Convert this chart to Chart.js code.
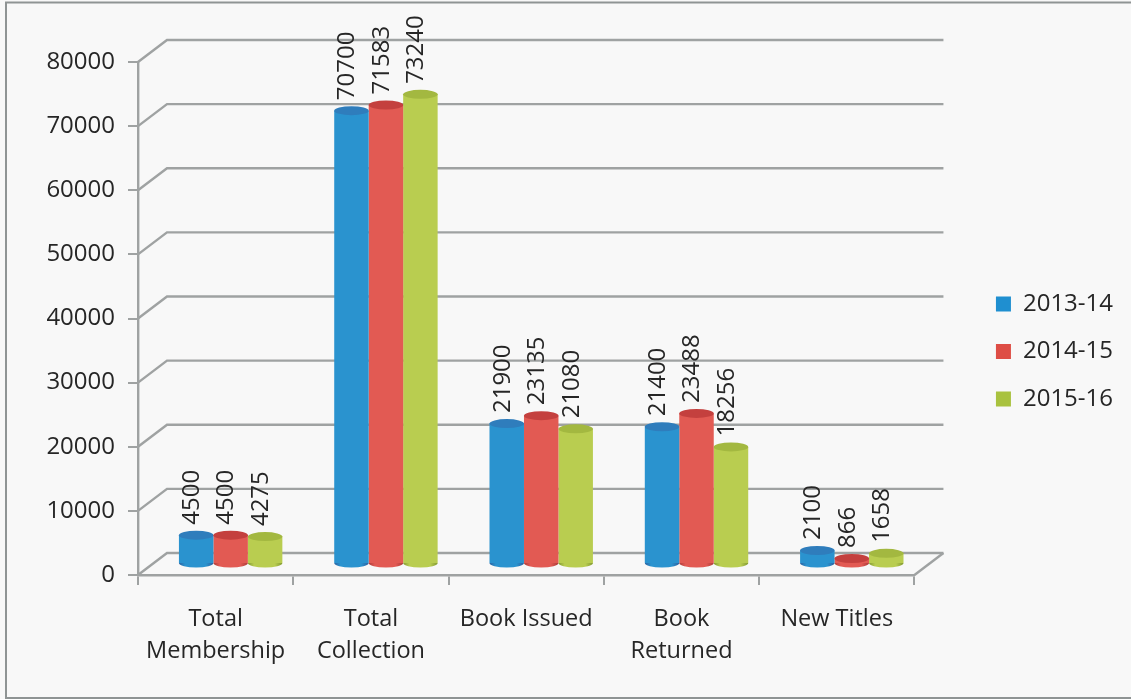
<!DOCTYPE html>
<html><head><meta charset="utf-8">
<style>html,body{margin:0;padding:0;background:#f8f8f8}#w{position:relative;width:1131px;height:699px;overflow:hidden}</style>
<script src="https://cdn.jsdelivr.net/npm/chart.js@4"></script>
</head><body><div id="w"><canvas id="c" width="1131" height="699"></canvas></div>
<script>
const categories = [["Total","Membership"],["Total","Collection"],"Book Issued",["Book","Returned"],"New Titles"];
const seriesNames = ["2013-14","2014-15","2015-16"];
const values2013 = [4500,70700,21900,21400,2100];
const values2014 = [4500,71583,23135,23488,866];
const values2015 = [4275,73240,21080,18256,1658];
const yTicks = [0,10000,20000,30000,40000,50000,60000,70000,80000];
const FONT = '"Open Sans"';
const TEXT = '#262626', LINE = '#9fa2a2';
const palette = [
 {edge:'#2c62a0',mid:'#2a93cf',top:'#2f7dbc',legend:'#1f8fd0'},
 {edge:'#ad3c3a',mid:'#e25a53',top:'#c4403e',legend:'#de4d45'},
 {edge:'#839a32',mid:'#b9cd50',top:'#a3b840',legend:'#a9c23f'}];
const DX=15, DY=-11, RY=4.5;     // bar plane depth
const WX=29, WY=-22;             // back wall depth

function grad(ctx,el,p){
  const hw=el.width/2, g=ctx.createLinearGradient(el.x-hw,0,el.x+hw,0);
  g.addColorStop(0,p.edge);g.addColorStop(.18,p.mid);g.addColorStop(.78,p.mid);g.addColorStop(1,p.edge);
  return g;
}
const scene={id:'scene',
 beforeDraw(ch){
  const {ctx,chartArea:a,scales:{x,y}}=ch;
  ctx.save();
  ctx.fillStyle='#f8f8f8';ctx.fillRect(0,0,ch.width,ch.height);
  ctx.strokeStyle='#8f9494';ctx.lineWidth=2;
  ctx.beginPath();ctx.moveTo(ch.width+2,2.5);ctx.lineTo(6,2.5);ctx.lineTo(6,698);ctx.lineTo(ch.width+2,698);ctx.stroke();
  ctx.strokeStyle=LINE;ctx.lineWidth=2.4;
  yTicks.forEach(v=>{
    const p=y.getPixelForValue(v);
    ctx.beginPath();ctx.moveTo(a.left,p);ctx.lineTo(a.left+WX,p+WY);ctx.lineTo(a.right+WX,p+WY);ctx.stroke();
  });
  ctx.beginPath();ctx.moveTo(a.right,a.bottom);ctx.lineTo(a.right+WX,a.bottom+WY);ctx.stroke();
  ctx.restore();
 },
 beforeDatasetsDraw(ch){ch.ctx.save();ch.ctx.translate(DX,DY);},
 afterDatasetsDraw(ch){
  const ctx=ch.ctx;
  ch.data.datasets.forEach((ds,i)=>{
    const p=palette[i];
    ch.getDatasetMeta(i).data.forEach(el=>{
      const hw=el.width/2;
      ctx.fillStyle=grad(ctx,el,p);
      ctx.beginPath();ctx.ellipse(el.x,el.base,hw,RY,0,0,Math.PI);ctx.fill();
      ctx.fillStyle=p.top;
      ctx.beginPath();ctx.ellipse(el.x,el.y,hw,RY,0,0,Math.PI*2);ctx.fill();
    });
  });
  ctx.font='24px '+FONT;ctx.fillStyle=TEXT;ctx.textAlign='left';ctx.textBaseline='middle';
  ch.data.datasets.forEach((ds,i)=>{
    ch.getDatasetMeta(i).data.forEach((el,k)=>{
      ctx.save();ctx.translate(el.x-4,el.y-RY-6);ctx.rotate(-Math.PI/2);
      ctx.fillText(String(ds.data[k]),0,0);ctx.restore();
    });
  });
  ctx.restore();
 }};
const mk=(i,d)=>({label:seriesNames[i],data:d,clip:false,borderWidth:0,xAxisID:'x',yAxisID:'y',
  backgroundColor:c=>c.element&&c.element.width?grad(c.chart.ctx,c.element,palette[i]):palette[i].mid});
const spacer=(position,key,size)=>({type:'linear',position,display:true,grid:{display:false},border:{display:false},
  ticks:{display:false},afterFit:s=>{s[key]=size}});
new Chart(document.getElementById('c'),{
 type:'bar',
 data:{labels:categories,datasets:[mk(0,values2013),mk(1,values2014),mk(2,values2015)]},
 plugins:[scene],
 options:{
  responsive:false,animation:false,
  categoryPercentage:.666,barPercentage:1,
  layout:{padding:{left:0,right:8,top:4,bottom:0}},
  plugins:{tooltip:{enabled:false},
   legend:{position:'right',labels:{
     color:TEXT,font:{family:FONT,size:24},boxWidth:15,boxHeight:15,padding:23.5,
     generateLabels:ch=>seriesNames.map((n,i)=>({text:n,fillStyle:palette[i].legend,strokeStyle:palette[i].legend,lineWidth:0,datasetIndex:i,fontColor:TEXT}))}}},
  scales:{
   x:{afterFit:s=>{s.height=124},grid:{drawOnChartArea:false,color:LINE,tickLength:10,lineWidth:2},
      border:{display:true,color:LINE,width:2.4},
      ticks:{color:TEXT,font:{family:FONT,size:23.5,lineHeight:32/23.5},padding:18,maxRotation:0,autoSkip:false}},
   y:{min:0,max:80000,afterFit:s=>{s.width=138},afterBuildTicks:s=>{s.ticks=yTicks.map(v=>({value:v}))},
      grid:{drawOnChartArea:false,color:LINE,tickLength:10,lineWidth:2},
      border:{display:true,color:LINE,width:2.4},
      ticks:{color:TEXT,font:{family:FONT,size:24},padding:13,callback:v=>String(v)}},
   topSpacer:spacer('top','height',58),
   rightSpacer:spacer('right','width',58)
  }}});
</script></body></html>
